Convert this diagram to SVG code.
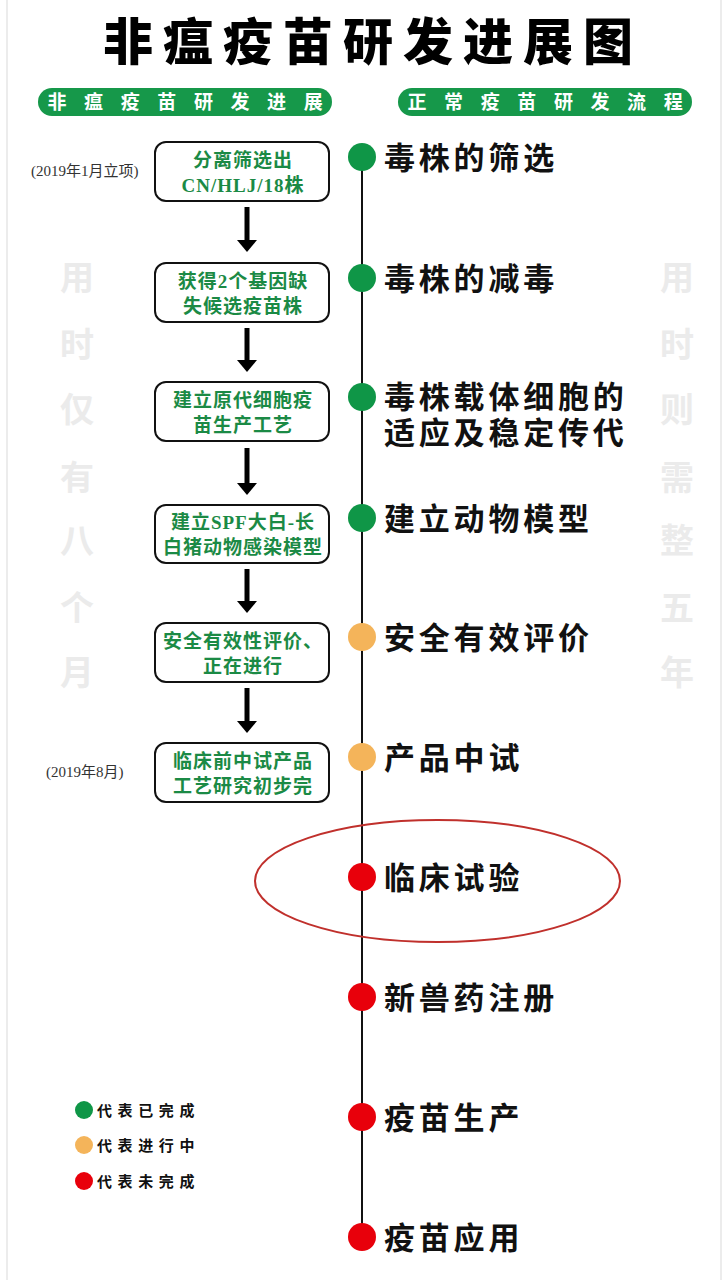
<svg xmlns="http://www.w3.org/2000/svg" width="726" height="1280" viewBox="0 0 726 1280">
<style>
.cjk{font-family:"Noto Sans CJK SC","Liberation Sans",sans-serif}
.title{font-size:50px;font-weight:900;fill:#000;letter-spacing:10px}
.pill{fill:#16984a}
.pilltxt{font-size:19px;font-weight:700;fill:#fff;letter-spacing:17.6px}
.box{fill:#fff;stroke:#111;stroke-width:2}
.btxt{font-family:"Liberation Serif","Noto Sans CJK SC",serif;font-size:19px;font-weight:700;fill:#1b8a45;letter-spacing:1px;text-anchor:middle}
.lbl{font-size:31px;font-weight:700;fill:#111;letter-spacing:3.8px}
.date{font-family:"Liberation Serif","Noto Sans CJK SC",serif;font-size:15px;fill:#333}
.ghost{font-size:34px;font-weight:700;fill:#ebebeb;text-anchor:middle}
.leg{font-size:15px;font-weight:700;fill:#111;letter-spacing:5.6px}
.g{fill:#0f9647}.o{fill:#f4b45a}.r{fill:#e8000b}
.arrow{stroke:#000;stroke-width:5}
</style>
<defs>
<marker id="ah" markerWidth="4" markerHeight="4" refX="1.2" refY="2" orient="auto" markerUnits="strokeWidth">
<path d="M0,0 L2.4,2 L0,4 Z" fill="#000"/>
</marker>
</defs>
<rect x="0" y="0" width="726" height="1280" fill="#fff"/>
<line x1="7" y1="0" x2="7" y2="1280" stroke="#e6e6e6" stroke-width="1.5"/>
<line x1="721" y1="0" x2="721" y2="1280" stroke="#e6e6e6" stroke-width="1.5"/>

<g id="title"><text class="cjk title" x="103" y="60">非瘟疫苗研发进展图</text></g>

<g id="header-left">
<rect class="pill" x="38" y="88" width="294" height="28" rx="14"/>
<text class="cjk pilltxt" x="47.5" y="109">非瘟疫苗研发进展</text>
</g>
<g id="header-right">
<rect class="pill" x="398" y="88" width="294" height="28" rx="14"/>
<text class="cjk pilltxt" x="407.5" y="109">正常疫苗研发流程</text>
</g>

<g id="ghost-left" class="cjk ghost">
<text x="77" y="290">用</text><text x="77" y="357">时</text><text x="77" y="422">仅</text><text x="77" y="490">有</text><text x="77" y="553">八</text><text x="77" y="620">个</text><text x="77" y="685">月</text>
</g>
<g id="ghost-right" class="cjk ghost">
<text x="677" y="290">用</text><text x="677" y="357">时</text><text x="677" y="422">则</text><text x="677" y="490">需</text><text x="677" y="553">整</text><text x="677" y="620">五</text><text x="677" y="685">年</text>
</g>

<g id="dates">
<text class="date" x="31" y="176">(2019年1月立项)</text>
<text class="date" x="46" y="777">(2019年8月)</text>
</g>

<g id="connectors">
<line class="arrow" x1="247" y1="207" x2="247" y2="246" marker-end="url(#ah)"/>
<line class="arrow" x1="247" y1="328" x2="247" y2="366" marker-end="url(#ah)"/>
<line class="arrow" x1="247" y1="448" x2="247" y2="489" marker-end="url(#ah)"/>
<line class="arrow" x1="247" y1="569" x2="247" y2="607" marker-end="url(#ah)"/>
<line class="arrow" x1="247" y1="688" x2="247" y2="727" marker-end="url(#ah)"/>
<line x1="362" y1="157" x2="362" y2="1237" stroke="#111" stroke-width="2"/>
</g>

<g id="box1"><rect class="box" x="155" y="142" width="174" height="59" rx="11"/>
<text class="btxt" x="243" y="167">分离筛选出</text><text class="btxt" x="243" y="192">CN/HLJ/18株</text></g>
<g id="box2"><rect class="box" x="155" y="263" width="174" height="59" rx="11"/>
<text class="btxt" x="243" y="288">获得2个基因缺</text><text class="btxt" x="243" y="313">失候选疫苗株</text></g>
<g id="box3"><rect class="box" x="155" y="382" width="174" height="59" rx="11"/>
<text class="btxt" x="243" y="407">建立原代细胞疫</text><text class="btxt" x="243" y="432">苗生产工艺</text></g>
<g id="box4"><rect class="box" x="155" y="505" width="174" height="58" rx="11"/>
<text class="btxt" x="243" y="529">建立SPF大白-长</text><text class="btxt" x="243" y="554">白猪动物感染模型</text></g>
<g id="box5"><rect class="box" x="155" y="623" width="174" height="59" rx="11"/>
<text class="btxt" x="243" y="648">安全有效性评价、</text><text class="btxt" x="243" y="673">正在进行</text></g>
<g id="box6"><rect class="box" x="155" y="743" width="174" height="59" rx="11"/>
<text class="btxt" x="243" y="768">临床前中试产品</text><text class="btxt" x="243" y="793">工艺研究初步完</text></g>

<g id="step1"><circle class="g" cx="362" cy="157" r="14"/><text class="cjk lbl" x="384" y="169">毒株的筛选</text></g>
<g id="step2"><circle class="g" cx="362" cy="278" r="14"/><text class="cjk lbl" x="384" y="290">毒株的减毒</text></g>
<g id="step3"><circle class="g" cx="362" cy="397" r="14"/><text class="cjk lbl"><tspan x="384" y="408">毒株载体细胞的</tspan><tspan x="384" y="444">适应及稳定传代</tspan></text></g>
<g id="step4"><circle class="g" cx="362" cy="518" r="14"/><text class="cjk lbl" x="384" y="530">建立动物模型</text></g>
<g id="step5"><circle class="o" cx="362" cy="637" r="14"/><text class="cjk lbl" x="384" y="649">安全有效评价</text></g>
<g id="step6"><circle class="o" cx="362" cy="757" r="14"/><text class="cjk lbl" x="384" y="769">产品中试</text></g>
<g id="step7"><circle class="r" cx="362" cy="877" r="14"/><text class="cjk lbl" x="384" y="889">临床试验</text>
<ellipse cx="437.5" cy="881" rx="182.5" ry="61" fill="none" stroke="#c0302c" stroke-width="2"/></g>
<g id="step8"><circle class="r" cx="362" cy="997" r="14"/><text class="cjk lbl" x="384" y="1009">新兽药注册</text></g>
<g id="step9"><circle class="r" cx="362" cy="1117" r="14"/><text class="cjk lbl" x="384" y="1129">疫苗生产</text></g>
<g id="step10"><circle class="r" cx="362" cy="1237" r="14"/><text class="cjk lbl" x="384" y="1249">疫苗应用</text></g>

<g id="legend">
<circle class="g" cx="84" cy="1110" r="9"/><text class="cjk leg" x="97" y="1116">代表已完成</text>
<circle class="o" cx="84" cy="1145" r="9"/><text class="cjk leg" x="97" y="1151">代表进行中</text>
<circle class="r" cx="84" cy="1181" r="9"/><text class="cjk leg" x="97" y="1187">代表未完成</text>
</g>
</svg>
